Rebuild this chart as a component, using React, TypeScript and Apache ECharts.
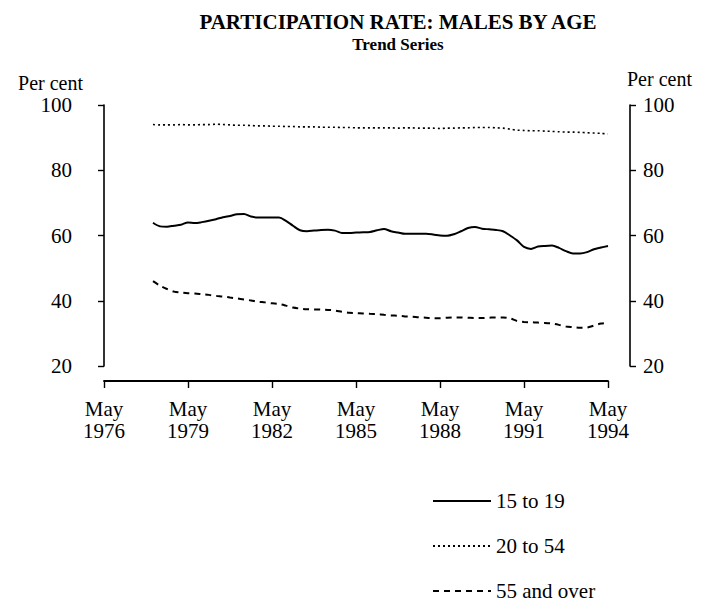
import React, { useEffect, useRef } from "react";
import * as echarts from "echarts";

// Months elapsed since May 1976 (quarterly observations, Feb 1978 .. May 1994)
const months = [
  21, 24, 27, 30, 33, 36, 39, 42, 45, 48, 51, 54, 57, 60, 63, 66, 69, 72, 75, 78,
  81, 84, 87, 90, 93, 96, 99, 102, 105, 108, 111, 114, 117, 120, 123, 126, 129, 132, 135, 138,
  141, 144, 147, 150, 153, 156, 159, 162, 165, 168, 171, 174, 177, 180, 183, 186, 189, 192, 195, 198,
  201, 204, 207, 210, 213, 216,
];

const age15to19 = [
  63.9, 62.8, 62.7, 63.0, 63.3, 64.0, 63.8, 64.1, 64.5, 65.0, 65.6, 66.0, 66.5, 66.6, 65.8, 65.5, 65.5, 65.5, 65.5, 64.5,
  63.0, 61.6, 61.3, 61.5, 61.7, 61.8, 61.5, 60.8, 60.8, 60.9, 61.0, 61.1, 61.6, 62.0, 61.3, 60.9, 60.5, 60.5, 60.5, 60.5,
  60.3, 60.0, 59.9, 60.4, 61.3, 62.3, 62.6, 62.1, 61.9, 61.7, 61.3, 60.0, 58.5, 56.5, 55.9, 56.6, 56.8, 56.9, 56.2, 55.2,
  54.5, 54.5, 54.9, 55.8, 56.3, 56.8,
];

const age20to54 = [
  94.0, 93.9, 93.9, 93.9, 94.0, 93.9, 93.9, 94.0, 94.0, 94.1, 94.0, 93.9, 93.8, 93.8, 93.7, 93.6, 93.6, 93.5, 93.5, 93.4,
  93.4, 93.3, 93.3, 93.3, 93.2, 93.2, 93.2, 93.1, 93.1, 93.0, 93.0, 93.0, 93.0, 93.0, 93.0, 92.9, 93.0, 93.0, 92.9, 92.9,
  92.9, 92.8, 92.9, 92.9, 93.0, 93.0, 93.1, 93.1, 93.1, 93.0, 92.9, 92.6, 92.3, 92.2, 92.1, 92.1, 92.0, 91.9, 91.8, 91.7,
  91.7, 91.6, 91.5, 91.4, 91.3, 91.1,
];

const age55over = [
  46.0, 44.6, 43.6, 42.8, 42.5, 42.3, 42.2, 42.0, 41.8, 41.5, 41.3, 41.0, 40.7, 40.4, 40.1, 39.7, 39.5, 39.2, 39.0, 38.5,
  37.9, 37.6, 37.4, 37.3, 37.3, 37.2, 37.0, 36.6, 36.3, 36.2, 36.1, 36.0, 35.9, 35.7, 35.5, 35.4, 35.2, 35.1, 34.9, 34.8,
  34.6, 34.6, 34.8, 34.9, 34.9, 34.8, 34.7, 34.7, 34.8, 34.9, 34.9, 34.6, 33.8, 33.5, 33.4, 33.3, 33.2, 33.0, 32.6, 32.1,
  31.9, 31.7, 31.8, 32.4, 33.0, 33.2,
];

const seriesNames = ["15 to 19", "20 to 54", "55 and over"];
const title = "PARTICIPATION RATE: MALES BY AGE";
const subtitle = "Trend Series";
const yName = "Per cent";
const tickMonth = "May";
const startYear = 1976;

const FONT = "'Liberation Serif', 'Times New Roman', serif";

export default function App() {
  const ref = useRef<HTMLDivElement>(null);

  useEffect(() => {
    if (!ref.current) return;
    const chart = echarts.init(ref.current, undefined, { renderer: "svg" });
    const pair = (vals: number[]) => months.map((m, i) => [m, vals[i]]);
    const axisText = { color: "#000", fontFamily: FONT, fontSize: 21 };
    const yCommon = {
      type: "value" as const,
      min: 20,
      max: 100,
      interval: 20,
      splitLine: { show: false },
      axisLine: { show: true, lineStyle: { color: "#000", width: 1.6 } },
      axisTick: { show: true, length: 6, lineStyle: { color: "#000", width: 1.4 } },
    };
    chart.setOption({
      animation: false,
      backgroundColor: "#fff",
      textStyle: { fontFamily: FONT, color: "#000" },
      grid: { left: 104, right: 96, top: 105, height: 261, containLabel: false },
      xAxis: {
        type: "value",
        min: 0,
        max: 216,
        interval: 36,
        offset: 15,
        splitLine: { show: false },
        axisLine: { show: true, lineStyle: { color: "#000", width: 1.8 } },
        axisTick: { show: true, length: 7, lineStyle: { color: "#000", width: 1.4 } },
        axisLabel: {
          ...axisText,
          margin: 17,
          lineHeight: 22,
          formatter: (v: number) => `${tickMonth}\n${startYear + v / 12}`,
        },
      },
      yAxis: [
        {
          ...yCommon,
          position: "left",
          offset: 20,
          axisLabel: { ...axisText, margin: 12 },
        },
        {
          ...yCommon,
          position: "right",
          offset: 22,
          axisLabel: { ...axisText, margin: 13 },
        },
      ],
      legend: {
        orient: "vertical",
        left: 432,
        top: 490,
        height: 200,
        padding: 0,
        itemWidth: 58,
        itemHeight: 14,
        itemGap: 23,
        selectedMode: false,
        itemStyle: { opacity: 0, borderWidth: 0 },
        textStyle: { ...axisText, lineHeight: 22 },
        data: seriesNames,
      },
      graphic: [
        {
          type: "text",
          x: 398,
          y: 22,
          style: {
            text: title,
            fill: "#000",
            font: `bold 21px ${FONT}`,
            textAlign: "center",
            textVerticalAlign: "middle",
          },
        },
        {
          type: "text",
          x: 398,
          y: 44,
          style: {
            text: subtitle,
            fill: "#000",
            font: `bold 17px ${FONT}`,
            textAlign: "center",
            textVerticalAlign: "middle",
          },
        },
        {
          type: "text",
          x: 83,
          y: 83,
          style: {
            text: yName,
            fill: "#000",
            font: `20px ${FONT}`,
            textAlign: "right",
            textVerticalAlign: "middle",
          },
        },
        {
          type: "text",
          x: 627,
          y: 79,
          style: {
            text: yName,
            fill: "#000",
            font: `20px ${FONT}`,
            textAlign: "left",
            textVerticalAlign: "middle",
          },
        },
      ],
      series: [
        {
          name: seriesNames[0],
          type: "line",
          yAxisIndex: 0,
          data: pair(age15to19),
          symbol: "none",
          smooth: 0.3,
          lineStyle: { color: "#000", width: 2, type: "solid" },
          itemStyle: { color: "#000" },
        },
        {
          name: seriesNames[1],
          type: "line",
          yAxisIndex: 0,
          data: pair(age20to54),
          symbol: "none",
          smooth: 0.3,
          lineStyle: { color: "#000", width: 1.6, type: [2, 3] },
          itemStyle: { color: "#000" },
        },
        {
          name: seriesNames[2],
          type: "line",
          yAxisIndex: 0,
          data: pair(age55over),
          symbol: "none",
          smooth: 0.3,
          lineStyle: { color: "#000", width: 2, type: [6, 5] },
          itemStyle: { color: "#000" },
        },
      ],
    });
    return () => chart.dispose();
  }, []);

  return (
    <div
      ref={ref}
      style={{ position: "fixed", left: 0, top: 0, width: 704, height: 604, background: "#fff" }}
    />
  );
}
